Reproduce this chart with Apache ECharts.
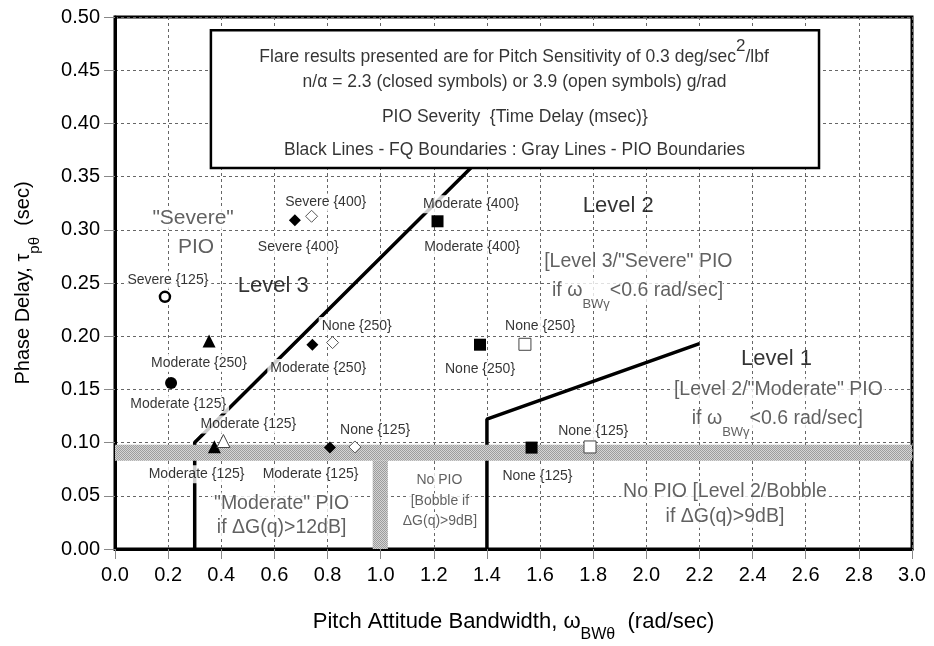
<!DOCTYPE html>
<html><head><meta charset="utf-8">
<script src="https://cdn.jsdelivr.net/npm/echarts@6/dist/echarts.min.js"></script>
<style>html,body{margin:0;padding:0;background:#fff}#c{width:934px;height:646px}</style>
</head><body><div id="c"></div>
<script>
// ---------- data ----------
const filledDiamonds = [[0.677, 0.309], [0.743, 0.192], [0.809, 0.0953]];
const openDiamonds   = [[0.740, 0.3127], [0.819, 0.194], [0.903, 0.0959]];
const filledSquares  = [[1.214, 0.308], [1.374, 0.192], [1.568, 0.0953]];
const openSquares    = [[1.543, 0.1924], [1.788, 0.0959]];
const filledCircles  = [[0.211, 0.156]];
const openCircles    = [[0.188, 0.237]];
const filledTriangles = [[0.354, 0.1955], [0.374, 0.096]];
const openTriangles  = [[0.408, 0.1015]];

// FQ boundaries (black lines)
const level3Boundary = [[0.3, 0], [0.3, 0.1], [1.5, 0.398]];
const level1Boundary = [[1.4, 0], [1.4, 0.122], [2.2, 0.193]];
// PIO boundaries (gray bands): [xFrom, yFrom, xTo, yTo]
const pioBandH = [0, 0.083, 3.0, 0.098];
const pioBandV = [0.97, 0, 1.027, 0.083];
// Note box extent
const noteBox = [0.361, 0.358, 2.65, 0.4875];

// annotation texts: [x, y, text, kind]
const annotations = [
  [0.199, 0.253, 'Severe {125}', 'small'],
  [0.294, 0.311, '"Severe"', 'pioBig'],
  [0.305, 0.284, 'PIO', 'pioBig'],
  [0.596, 0.247, 'Level 3', 'level'],
  [0.793, 0.3256, 'Severe {400}', 'small'],
  [0.690, 0.2838, 'Severe {400}', 'small'],
  [1.340, 0.324, 'Moderate {400}', 'small'],
  [1.344, 0.2838, 'Moderate {400}', 'small'],
  [1.894, 0.322, 'Level 2', 'level'],
  [1.970, 0.2697, '[Level 3/"Severe" PIO', 'pio'],
  [1.967, 0.2415, '{t|if ω}{s|BWγ}{t|<0.6 rad/sec]}', 'pioSub'],
  [0.910, 0.2096, 'None {250}', 'small'],
  [0.765, 0.170, 'Moderate {250}', 'small'],
  [0.316, 0.1748, 'Moderate {250}', 'small'],
  [0.238, 0.1357, 'Moderate {125}', 'small'],
  [0.502, 0.1169, 'Moderate {125}', 'small'],
  [0.979, 0.1116, 'None {125}', 'small'],
  [0.307, 0.0702, 'Moderate {125}', 'small'],
  [0.736, 0.0702, 'Moderate {125}', 'small'],
  [0.627, 0.0427, '"Moderate" PIO', 'pio'],
  [0.627, 0.0201, 'if ΔG(q)>12dB]', 'pio'],
  [1.221, 0.065, 'No PIO', 'pioSmall'],
  [1.223, 0.0448, '[Bobble if', 'pioSmall'],
  [1.223, 0.026, 'ΔG(q)>9dB]', 'pioSmall'],
  [1.600, 0.2093, 'None {250}', 'small'],
  [1.374, 0.1695, 'None {250}', 'small'],
  [2.490, 0.179, 'Level 1', 'level'],
  [2.497, 0.150, '[Level 2/"Moderate" PIO', 'pio'],
  [2.493, 0.1215, '{t|if ω}{s|BWγ}{t|<0.6 rad/sec]}', 'pioSub'],
  [1.800, 0.1106, 'None {125}', 'small'],
  [1.590, 0.0686, 'None {125}', 'small'],
  [2.296, 0.0536, 'No PIO [Level 2/Bobble', 'pio'],
  [2.296, 0.0301, 'if ΔG(q)>9dB]', 'pio'],
  [1.502, 0.4635, '{m|Flare results presented are for Pitch Sensitivity of 0.3 deg/sec}{p|2}{m|/lbf}', 'boxSup'],
  [1.504, 0.4383, 'n/α = 2.3 (closed symbols) or 3.9 (open symbols) g/rad', 'box'],
  [1.505, 0.406, 'PIO Severity  {Time Delay (msec)}', 'box'],
  [1.504, 0.3747, 'Black Lines - FQ Boundaries : Gray Lines - PIO Boundaries', 'box']
];

// ---------- styles ----------
const FONT = '"Liberation Sans", Arial, Helvetica, sans-serif';
const PIO_COLOR = '#3a3a3a';
const STYLES = {
  small: {fontSize: 14, color: '#000', backgroundColor: '#fff', padding: [2, 3]},
  level: {fontSize: 22, color: '#000'},
  pio: {fontSize: 19.5, color: PIO_COLOR, backgroundColor: '#fff', padding: [1, 2]},
  pioBig: {fontSize: 21, color: PIO_COLOR, backgroundColor: '#fff', padding: [1, 2]},
  pioSmall: {fontSize: 14, color: PIO_COLOR, backgroundColor: '#fff', padding: [1, 2]},
  pioSub: {color: PIO_COLOR, backgroundColor: '#fff', rich: {
    t: {fontSize: 19.5, lineHeight: 22, verticalAlign: 'top', color: PIO_COLOR, fontFamily: FONT},
    s: {fontSize: 13, lineHeight: 14, verticalAlign: 'top', padding: [17, 0, 0, 0], color: PIO_COLOR, fontFamily: FONT}
  }},
  box: {fontSize: 17.5, color: '#000'},
  boxSup: {color: '#000', rich: {
    m: {fontSize: 17.5, lineHeight: 20, verticalAlign: 'bottom', color: '#000', fontFamily: FONT},
    p: {fontSize: 17, lineHeight: 16, verticalAlign: 'bottom', padding: [0, 0, 11, 0], color: '#000', fontFamily: FONT}
  }}
};

function stipple() {
  const c = document.createElement('canvas');
  c.width = 2; c.height = 2;
  const g = c.getContext('2d');
  g.fillStyle = '#d4d4d4'; g.fillRect(0, 0, 2, 2);
  g.fillStyle = '#9c9c9c'; g.fillRect(0, 0, 1, 1); g.fillRect(1, 1, 1, 1);
  return c;
}
const bandFill = {image: stipple(), repeat: 'repeat'};

const labelItems = annotations.map(a => ({
  value: [a[0], a[1]], txt: a[2],
  label: Object.assign({fontFamily: FONT}, STYLES[a[3]])
}));

function markerSeries(data, symbol, size, filled, border, bw) {
  return {
    type: 'scatter', data, symbol, symbolSize: size, z: 6, silent: true,
    itemStyle: filled ? {color: '#000', borderWidth: 0, opacity: 1}
                      : {color: '#fff', borderColor: border, borderWidth: bw, opacity: 1}
  };
}

const chart = echarts.init(document.getElementById('c'), null, {renderer: 'canvas'});
chart.setOption({
  animation: false,
  backgroundColor: '#fff',
  grid: {left: 115, right: 22, top: 17, bottom: 97, show: true, borderColor: '#000', borderWidth: 3,
         backgroundColor: '#fff', outerBoundsMode: 'none'},
  xAxis: {
    type: 'value', min: 0, max: 3, interval: 0.2,
    name: '{a|Pitch Attitude Bandwidth, ω}{s|BWθ}{a|  (rad/sec)}',
    nameLocation: 'middle', nameGap: 62, nameMoveOverlap: false,
    nameTextStyle: {rich: {
      a: {fontSize: 22, lineHeight: 22, verticalAlign: 'top', color: '#000', fontFamily: FONT},
      s: {fontSize: 16, lineHeight: 18, verticalAlign: 'top', padding: [16, 0, 0, 0], color: '#000', fontFamily: FONT}
    }},
    axisLine: {show: true, onZero: false, lineStyle: {color: '#000', width: 3}},
    axisTick: {show: true, length: 10, lineStyle: {color: '#888', width: 1}},
    axisLabel: {fontSize: 20, color: '#000', fontFamily: FONT, margin: 16, formatter: v => v.toFixed(1)},
    splitLine: {show: true, lineStyle: {color: '#666', width: 1, type: [3, 3]}}
  },
  yAxis: {
    type: 'value', min: 0, max: 0.5, interval: 0.05,
    name: '{a|Phase Delay, τ}{s|pθ}{a|  (sec)}',
    nameLocation: 'middle', nameGap: 80, nameMoveOverlap: false,
    nameTextStyle: {rich: {
      a: {fontSize: 20, lineHeight: 22, verticalAlign: 'top', color: '#000', fontFamily: FONT},
      s: {fontSize: 15, lineHeight: 18, verticalAlign: 'top', padding: [14, 0, 0, 0], color: '#000', fontFamily: FONT}
    }},
    axisLine: {show: true, onZero: false, lineStyle: {color: '#000', width: 3}},
    axisTick: {show: true, length: 11, lineStyle: {color: '#888', width: 1}},
    axisLabel: {fontSize: 20, color: '#000', fontFamily: FONT, margin: 15, formatter: v => v.toFixed(2)},
    splitLine: {show: true, lineStyle: {color: '#666', width: 1, type: [3, 3]}}
  },
  series: [
    {
      type: 'line', data: level3Boundary, symbol: 'none', z: 2, silent: true,
      lineStyle: {color: '#000', width: 3.5},
      markArea: {
        silent: true, z: 3,
        itemStyle: {color: '#fff', borderColor: '#000', borderWidth: 2.5},
        data: [[{coord: [noteBox[0], noteBox[1]]}, {coord: [noteBox[2], noteBox[3]]}]]
      }
    },
    {
      type: 'line', data: level1Boundary, symbol: 'none', z: 2, silent: true,
      lineStyle: {color: '#000', width: 3.5},
      markArea: {
        silent: true, z: 4,
        itemStyle: {color: bandFill, borderWidth: 0},
        data: [
          [{coord: [pioBandH[0], pioBandH[1]]}, {coord: [pioBandH[2], pioBandH[3]]}],
          [{coord: [pioBandV[0], pioBandV[1]]}, {coord: [pioBandV[2], pioBandV[3]]}]
        ]
      }
    },
    {
      type: 'scatter', data: labelItems, symbolSize: 1, z: 5, silent: true,
      itemStyle: {color: 'rgba(0,0,0,0)'},
      label: {show: true, position: 'inside', formatter: p => p.data.txt}
    },
    markerSeries(filledDiamonds, 'diamond', 12, true),
    markerSeries(openDiamonds, 'diamond', 12, false, '#555', 1),
    markerSeries(filledSquares, 'rect', 12, true),
    markerSeries(openSquares, 'rect', 12, false, '#444', 1),
    markerSeries(filledCircles, 'circle', 12, true),
    markerSeries(openCircles, 'circle', 10, false, '#000', 2.5),
    markerSeries(filledTriangles, 'triangle', 13, true),
    markerSeries(openTriangles, 'triangle', 13, false, '#444', 1)
  ]
});
</script></body></html>
